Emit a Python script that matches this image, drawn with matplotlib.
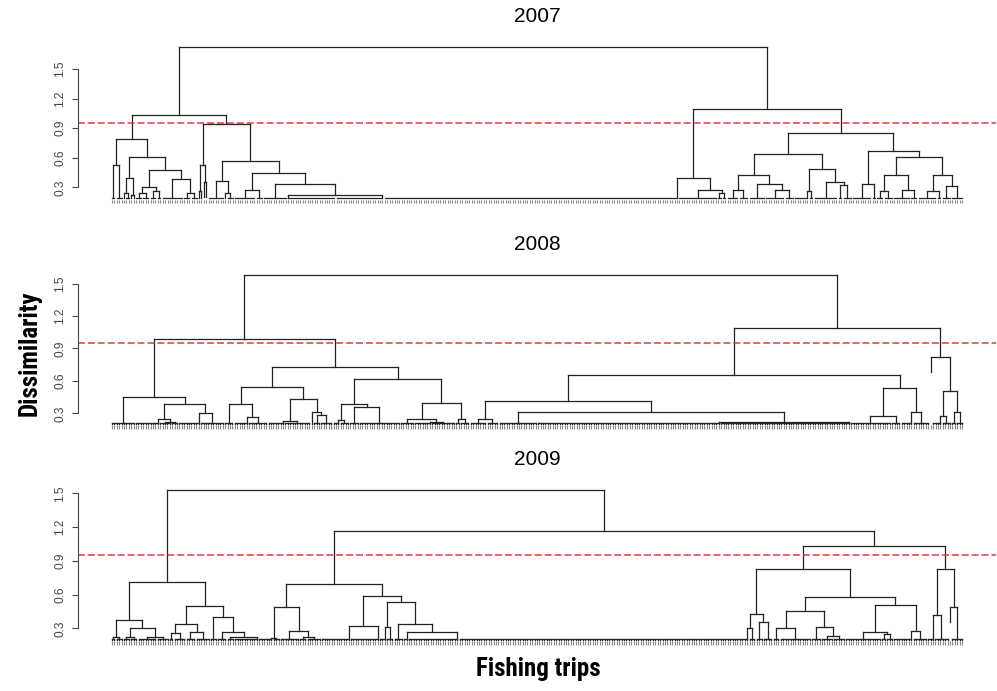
import matplotlib
matplotlib.use("Agg")
import matplotlib.pyplot as plt
from matplotlib import font_manager
from matplotlib.collections import LineCollection


def chain(k, first=False):
    # k trips joined one after another at ~zero dissimilarity;
    # the cluster hangs from its last trip (or its first one)
    return ("chain", k, first)


# Dendrograms of fishing trips, one per year.
# A node is (height, left, right); an int k is a block of k near-identical trips.
TREE_2007 = (1.72,
    (1.03,
        (0.79,
            (0.53, 2, 3),
            (0.605,
                (0.39, (0.24, 1, 2), (0.22, 1, 1)),
                (0.48,
                    (0.306, (0.24, 3, 3), (0.26, 3, 2)),
                    (0.38, 9, (0.24, 3, 3))))),
        (0.94,
            (0.527, (0.26, 1, 1), (0.354, 1, 1)),
            (0.57,
                (0.367, 7, (0.24, 1, 3)),
                (0.445,
                    (0.276, 9, 3),
                    (0.33, 10, (0.222, chain(20, first=True), chain(20))))))),
    (1.09,
        (0.39, chain(122), (0.276, 16, (0.24, 2, 2))),
        (0.85,
            (0.636,
                (0.42, (0.27, 5, 4), (0.334, 7, (0.27, 8, 4))),
                (0.49, (0.26, chain(6), 2), (0.354, 10, (0.32, 2, 4)))),
            (0.672,
                (0.33, 8, 2),
                (0.605,
                    (0.42, (0.26, 3, 4), (0.27, 7, 3)),
                    (0.42, (0.26, 8, 2), (0.31, 4, 5)))))))

TREE_2008 = (1.58,
    (0.985,
        (0.454, 10,
            (0.383,
                (0.25, chain(10), (0.22, 5, 3)),
                (0.30, chain(9), 10))),
        (0.729,
            (0.546,
                (0.383, 4, (0.27, chain(6), 8)),
                (0.432, (0.229, chain(7), 11), (0.31, 1, (0.28, 3, 5)))),
            (0.618,
                (0.39, (0.24, chain(3), 4), (0.36, 4, 17)),
                (0.40, (0.245, 6, (0.22, chain(7), 10)), (0.245, 2, 4))))),
    (1.087,
        (0.657,
            (0.414,
                (0.25, 7, 5),
                (0.309, 16, (0.222, chain(76), chain(54)))),
            (0.537, (0.278, 17, 4), (0.31, chain(5), 7))),
        (0.82, 1,
            (0.504, (0.278, chain(4), 4), (0.31, 2, 3)))))

TREE_2009 = (1.53,
    (0.714,
        (0.371,
            (0.225, 2, 3),
            (0.30, (0.225, 3, 3), (0.225, 8, 5))),
        (0.498,
            (0.341, (0.254, 2, 5), (0.263, 4, 6)),
            (0.40, 3, (0.27, 4, (0.22, 3, chain(10)))))),
    (1.165,
        (0.694,
            (0.489,
                (0.215, chain(6), 3),
                (0.275, 8, (0.22, 3, 6))),
            (0.584,
                (0.32, chain(12), chain(12)),
                (0.536,
                    (0.31, chain(3), 3),
                    (0.341, 4, (0.263, chain(2), chain(21)))))),
        (1.034,
            (0.824,
                (0.427, (0.30, chain(120), 3), (0.355, 3, 4)),
                (0.576,
                    (0.456, (0.30, 3, 13), (0.31, 4, (0.23, 5, 5))),
                    (0.507, (0.27, 15, (0.25, 2, 3)), (0.275, chain(8), 6)))),
            (0.824,
                (0.418, chain(3), 6),
                (0.489, 1, 5)))))

YEARS = ["2007", "2008", "2009"]
TREES = [TREE_2007, TREE_2008, TREE_2009]
BASES = [0.188, 0.201, 0.196]      # lowest level reached by the trips
HANGS = [0.153, 0.138, 0.134]      # hang = 0.1 * height range
CUT = 0.95
YTICKS = [0.3, 0.6, 0.9, 1.2, 1.5]

# panel placement in pixels (top, bottom) and y limits
PANELS = [(41, 205, 0.1205, 1.784),
          (269, 430, 0.1454, 1.636),
          (484, 646, 0.1427, 1.583)]
W, H = 997, 691
X0, X1 = 78, 996

# a narrow bold face for the axis titles, whichever is installed
fonts = font_manager.fontManager.ttflist
names = {f.name for f in fonts}
label_font = dict(family="Liberation Sans", fontsize=15)
for cand in ["Liberation Sans Narrow", "Roboto Condensed", "Open Sans Condensed",
             "Arial Narrow", "Nimbus Sans Narrow", "DejaVu Sans Condensed"]:
    if cand in names:
        label_font = dict(family=cand, fontsize=18)
        break
else:
    if any(f.name == "DejaVu Sans" and f.stretch == "condensed" and f.weight in ("bold", 700)
           for f in fonts):
        label_font = dict(family="DejaVu Sans", fontstretch="condensed", fontsize=16)
plain = "Liberation Sans"


def walk(node, first, base, hang, comb, segs, leaves):
    """Lay out a subtree from trip index `first`; returns x, top of its stem, trips used."""
    if isinstance(node, int) or node[0] == "chain":
        k = node if isinstance(node, int) else node[1]
        leaves.extend(range(first, first + k))
        if k == 1:
            return first, None, 1
        for i in range(first, first + k):
            segs.append([(i, base), (i, comb)])
        segs.append([(first, comb), (first + k - 1, comb)])
        if isinstance(node, int):
            x = first + (k - 1) / 2
        else:
            x = first if node[2] else first + k - 1
        return x, comb, k
    h, left, right = node
    xl, tl, nl = walk(left, first, base, hang, comb, segs, leaves)
    xr, tr, nr = walk(right, first + nl, base, hang, comb, segs, leaves)
    for x, t in ((xl, tl), (xr, tr)):
        bottom = t if t is not None else max(base, h - hang)
        segs.append([(x, bottom), (x, h)])
    segs.append([(xl, h), (xr, h)])
    return (xl + xr) / 2, h, nl + nr


fig = plt.figure(figsize=(W / 100, H / 100), dpi=100)

for year, tree, base, hang, (top, bot, ylo, yhi) in zip(YEARS, TREES, BASES, HANGS, PANELS):
    ax = fig.add_axes([X0 / W, 1 - bot / H, (X1 - X0) / W, (bot - top) / H])
    segs, leaves = [], []
    walk(tree, 0, base, hang, base + 0.008, segs, leaves)
    n = len(leaves)

    ax.add_collection(LineCollection(segs, colors="#222222", linewidths=0.9,
                                     capstyle="projecting"))
    # leaf labels, far too small to read
    ax.vlines(leaves, base - 0.045, base - 0.012, colors="#8a8a8a", linewidths=0.8)
    ax.axhline(CUT, color="#e0393e", linewidth=1.1, linestyle=(0, (4.5, 2)))

    ax.set_xlim(-0.04 * (n - 1), 1.04 * (n - 1))
    ax.set_ylim(ylo, yhi)
    for side in ("top", "right", "bottom"):
        ax.spines[side].set_visible(False)
    ax.spines["left"].set_bounds(YTICKS[0], YTICKS[-1])
    ax.spines["left"].set_color("#444444")
    ax.spines["left"].set_linewidth(0.8)
    ax.set_xticks([])
    ax.set_yticks(YTICKS)
    ax.set_yticklabels([f"{v:.1f}" for v in YTICKS], rotation=90, va="center",
                       fontsize=8.6, family=plain, color="#444444")
    ax.tick_params(axis="y", length=4.5, width=0.8, color="#444444", pad=4)
    ax.set_title(year, fontsize=15, family=plain, pad=14)
    ax.patch.set_visible(False)

fig.text(30 / W, 1 - 353 / H, "Dissimilarity", rotation=90, ha="center", va="center",
         fontweight="bold", **label_font)
fig.text(538 / W, 1 - 669 / H, "Fishing trips", ha="center", va="center",
         fontweight="bold", **label_font)

fig.savefig("out.png", dpi=100)
